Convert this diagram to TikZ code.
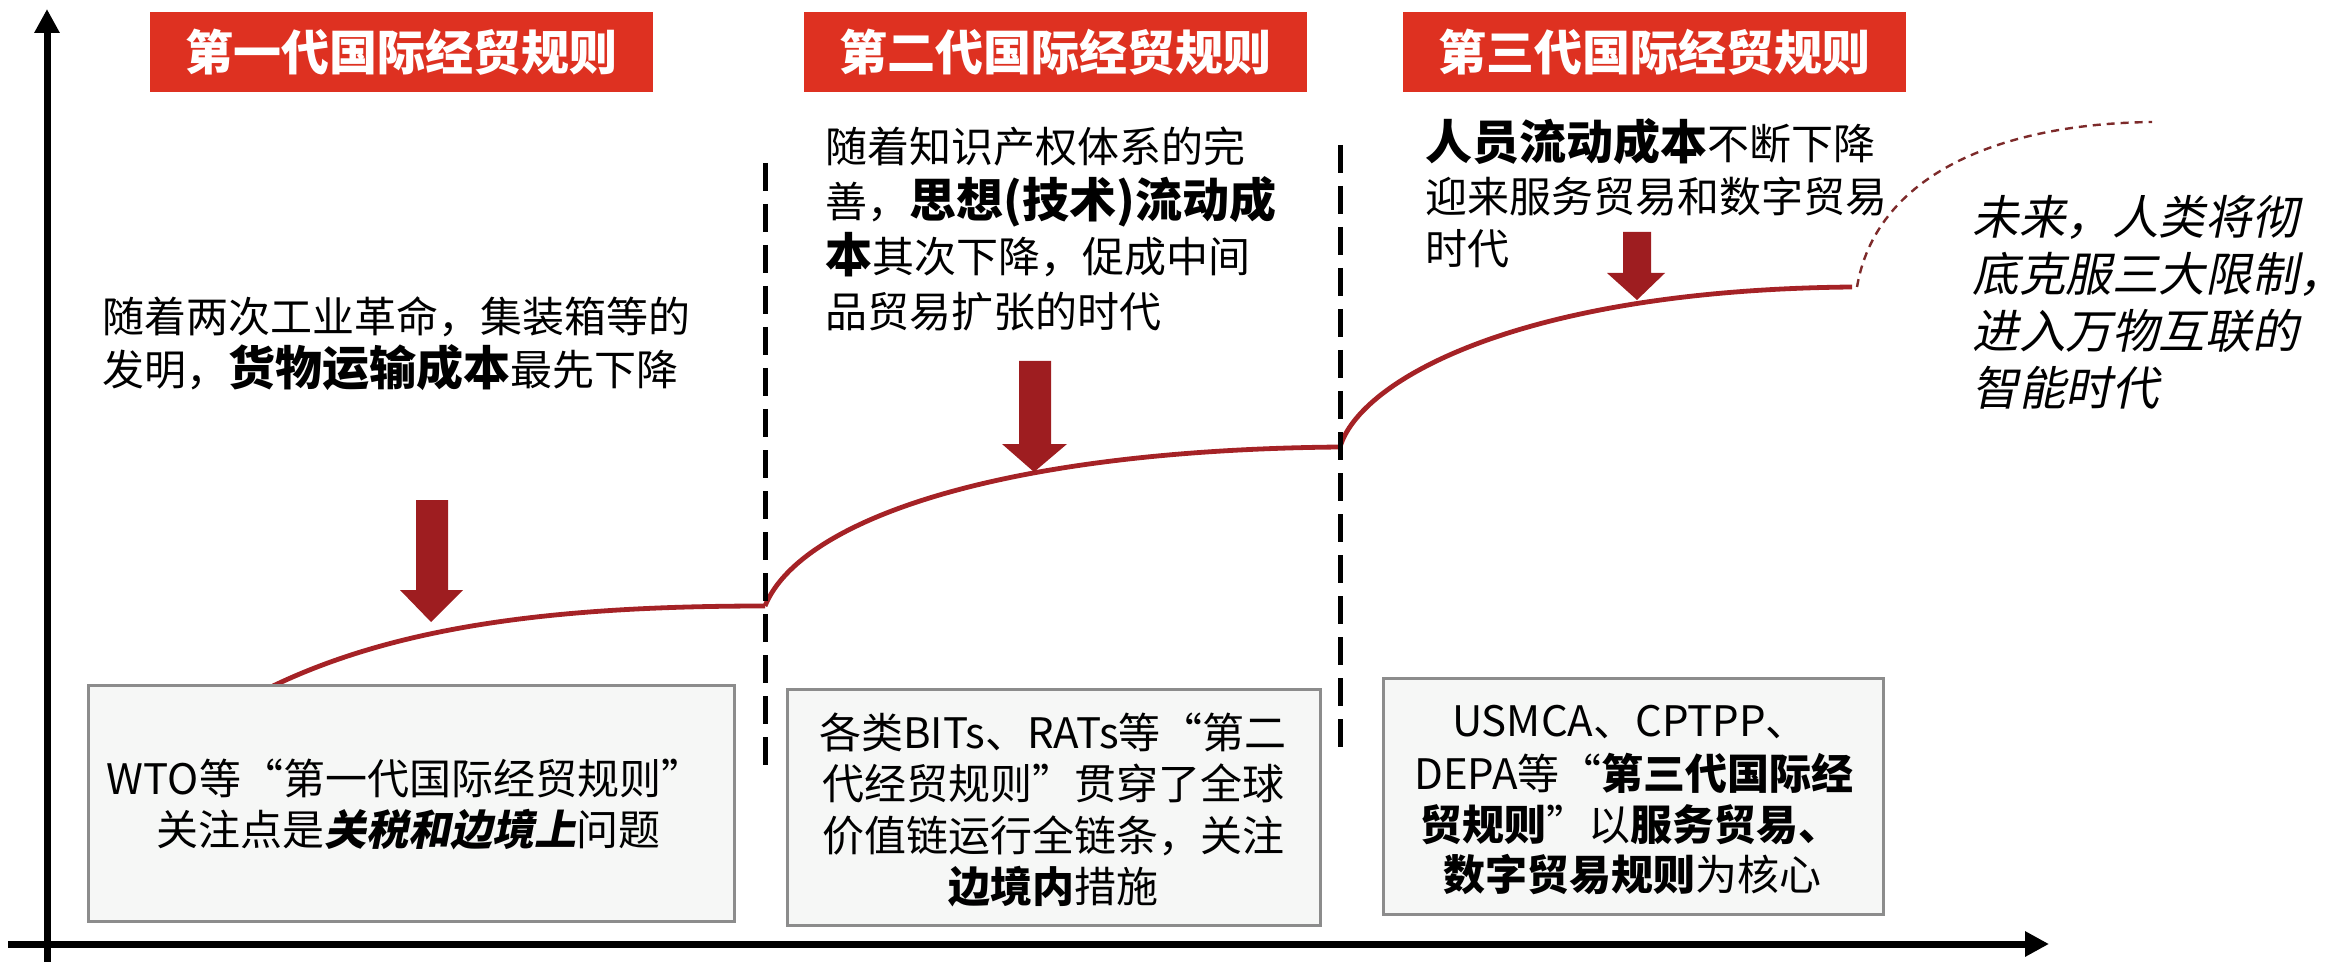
\documentclass[tikz,border=0pt]{standalone}
\usepackage{fontspec}
\setmainfont{Noto Sans CJK SC}
\newfontfamily\slantfont{Noto Sans CJK SC}[FakeSlant=0.2]
\usetikzlibrary{arrows.meta}
\definecolor{titlered}{RGB}{222,49,33}
\definecolor{arrowred}{RGB}{158,29,32}
\definecolor{curvered}{RGB}{165,34,38}
\definecolor{futurered}{RGB}{125,42,42}
\definecolor{boxfill}{RGB}{246,247,246}
\definecolor{boxline}{RGB}{140,140,140}
\newcommand\hlbig[1]{{\fontsize{23.5pt}{28pt}\selectfont\bfseries #1}}
\begin{document}
\begin{tikzpicture}[x=0.5pt,y=-0.5pt,
  ruletitle/.style={fill=titlered, text=white, font=\fontsize{24pt}{28pt}\selectfont\bfseries, minimum width=251.5pt, minimum height=40pt, inner sep=0},
  txt/.style={anchor=base west, inner sep=0, font=\fontsize{21pt}{25pt}\selectfont},
  ctxt/.style={anchor=base, inner sep=0, font=\fontsize{21pt}{25pt}\selectfont},
  itxt/.style={anchor=base west, inner sep=0, font=\fontsize{23.3pt}{28pt}\selectfont\slantfont},
  infobox/.style={draw=boxline, line width=1.5pt, fill=boxfill, minimum height=118pt, inner sep=0},
  downarrow/.style={fill=arrowred},
  costcurve/.style={draw=curvered, line width=2.4pt},
  futurecurve/.style={draw=futurered, line width=1.2pt, dash pattern=on 4pt off 3pt},
  divider/.style={line width=2.5pt, dash pattern=on 14pt off 6.5pt},
  axisline/.style={line width=3.5pt, -{Triangle[length=12pt,width=12pt]}}
]
\useasboundingbox (0,0) rectangle (2333,962);

% curve points
\coordinate (p0) at (273,686);
\coordinate (p1) at (765,606);
\coordinate (p2) at (1340,447);
\coordinate (p3) at (1852,287);
\coordinate (p4) at (2152,122);

\draw[costcurve] (p0) .. controls (400,625) and (560,606) .. (p1);
\draw[costcurve] (p1) .. controls (800,520) and (1000,450) .. (p2);
\draw[costcurve] (p2) .. controls (1360,380) and (1520,290) .. (p3);
\draw[futurecurve] (1857,287) .. controls (1875,180) and (1990,124) .. (p4);

% axes
\coordinate (yb) at (47,962);
\coordinate (yt) at (47,9);
\coordinate (xl) at (8,944);
\coordinate (xr) at (2049,944);
\draw[axisline] (yb) -- (yt);
\draw[axisline] (xl) -- (xr);

% titles
\node[ruletitle] (t1) at (401.5,52) {第一代国际经贸规则};
\node[ruletitle] (t2) at (1055.5,52) {第二代国际经贸规则};
\node[ruletitle] (t3) at (1654.5,52) {第三代国际经贸规则};

% info boxes
\node[infobox, minimum width=323pt] (b1) at (411,803) {};
\node[infobox, minimum width=266.5pt] (b2) at (1053.5,807) {};
\node[infobox, minimum width=250pt] (b3) at (1633,796) {};

\node[ctxt] (b1l1) at (405,794) {WTO等“第一代国际经贸规则”};
\node[ctxt] (b1l2) at (408,845) {关注点是{\slantfont\bfseries 关税和边境上}问题};

\node[ctxt] (b2l1) at (1053,748) {各类BITs、RATs等“第二};
\node[ctxt] (b2l2) at (1053,799) {代经贸规则”贯穿了全球};
\node[ctxt] (b2l3) at (1053,851) {价值链运行全链条，关注};
\node[ctxt] (b2l4) at (1053,902) {{\bfseries 边境内}措施};

\node[ctxt] (b3l1) at (1630,736) {USMCA、CPTPP、};
\node[ctxt] (b3l2) at (1634,789) {DEPA等“{\bfseries 第三代国际经}};
\node[ctxt] (b3l3) at (1630,840) {{\bfseries 贸规则}”以{\bfseries 服务贸易、}};
\node[ctxt] (b3l4) at (1632,890) {{\bfseries 数字贸易规则}为核心};

% dividers
\coordinate (d1t) at (765,163);
\coordinate (d1b) at (765,768);
\coordinate (d2t) at (1340,145);
\coordinate (d2b) at (1340,750);
\draw[divider] (d1t) -- (d1b);
\draw[divider] (d2t) -- (d2b);

% description texts
\node[txt] (c1l1) at (102,333) {随着两次工业革命，集装箱等的};
\node[txt] (c1l2) at (102,386) {发明，\hlbig{货物运输成本}最先下降};

\node[txt] (c2l1) at (825,163) {随着知识产权体系的完};
\node[txt] (c2l2) at (825,218) {善，\hlbig{思想(技术)流动成}};
\node[txt] (c2l3) at (825,273) {\hlbig{本}其次下降，促成中间};
\node[txt] (c2l4) at (825,328) {品贸易扩张的时代};

\node[txt] (c3l1) at (1425,160) {\hlbig{人员流动成本}不断下降};
\node[txt] (c3l2) at (1425,213) {迎来服务贸易和数字贸易};
\node[txt] (c3l3) at (1425,265) {时代};

\node[itxt] (f1) at (1972,235) {未来，人类将彻};
\node[itxt] (f2) at (1972,292) {底克服三大限制，};
\node[itxt] (f3) at (1972,349) {进入万物互联的};
\node[itxt] (f4) at (1972,406) {智能时代};

% down arrows
\fill[downarrow] (416,500) -- (448,500) -- (448,590) -- (463,590) -- (431,622) -- (400,590) -- (416,590) -- cycle;
\fill[downarrow] (1019,361) -- (1051,361) -- (1051,444) -- (1067,444) -- (1034,472) -- (1002,444) -- (1019,444) -- cycle;
\fill[downarrow] (1623,232) -- (1651,232) -- (1651,273) -- (1665,273) -- (1637,300) -- (1607,273) -- (1623,273) -- cycle;
\end{tikzpicture}
\end{document}
